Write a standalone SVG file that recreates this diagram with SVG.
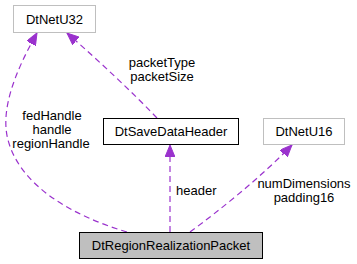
<svg xmlns="http://www.w3.org/2000/svg" width="357" height="264" viewBox="0 0 357 264">
<style>
text{font-family:"Liberation Sans",Arial,sans-serif;font-size:13px;fill:#000}
.n text{text-anchor:middle}
.lbl{text-anchor:middle}
.e{fill:none;stroke:#9a32cd;stroke-width:1.2;stroke-dasharray:6,4;marker-end:url(#ah)}
</style>
<defs>
<marker id="ah" markerUnits="userSpaceOnUse" markerWidth="13" markerHeight="10" refX="12" refY="5" orient="auto">
<path d="M0,0 L12,5 L0,10 z" fill="#9a32cd" stroke="#9a32cd"/>
</marker>
</defs>
<rect width="357" height="264" fill="#fff"/>
<g id="edges">
<path class="e" d="M127,232 C70,215 20,185 8,140 C0,110 15,72 37,33"/>
<path class="e" d="M157,118 C130,90 100,62 67,33"/>
<path class="e" d="M170,232 L170,145"/>
<path class="e" d="M190,232 C220,210 260,178 292,145"/>
</g>
<g id="labels">
<text class="lbl" x="52" y="120">fedHandle</text>
<text class="lbl" x="52" y="134">handle</text>
<text class="lbl" x="51" y="148">regionHandle</text>
<text class="lbl" x="162" y="67">packetType</text>
<text class="lbl" x="162" y="81">packetSize</text>
<text x="176" y="195">header</text>
<text class="lbl" x="304" y="188">numDimensions</text>
<text class="lbl" x="304" y="202">padding16</text>
</g>
<g id="DtNetU32" class="n">
<rect x="13.5" y="5.5" width="82" height="27" fill="#fff" stroke="#bfbfbf"/>
<text x="54.5" y="23.5">DtNetU32</text>
</g>
<g id="DtSaveDataHeader" class="n">
<rect x="103.5" y="118.5" width="135" height="26" fill="#fff" stroke="#000"/>
<text x="171" y="136">DtSaveDataHeader</text>
</g>
<g id="DtNetU16" class="n">
<rect x="263.5" y="118.5" width="81" height="26" fill="#fff" stroke="#bfbfbf"/>
<text x="304" y="136">DtNetU16</text>
</g>
<g id="DtRegionRealizationPacket" class="n">
<rect x="79.5" y="232.5" width="183" height="26" fill="#bfbfbf" stroke="#000"/>
<text x="171" y="250">DtRegionRealizationPacket</text>
</g>
</svg>
